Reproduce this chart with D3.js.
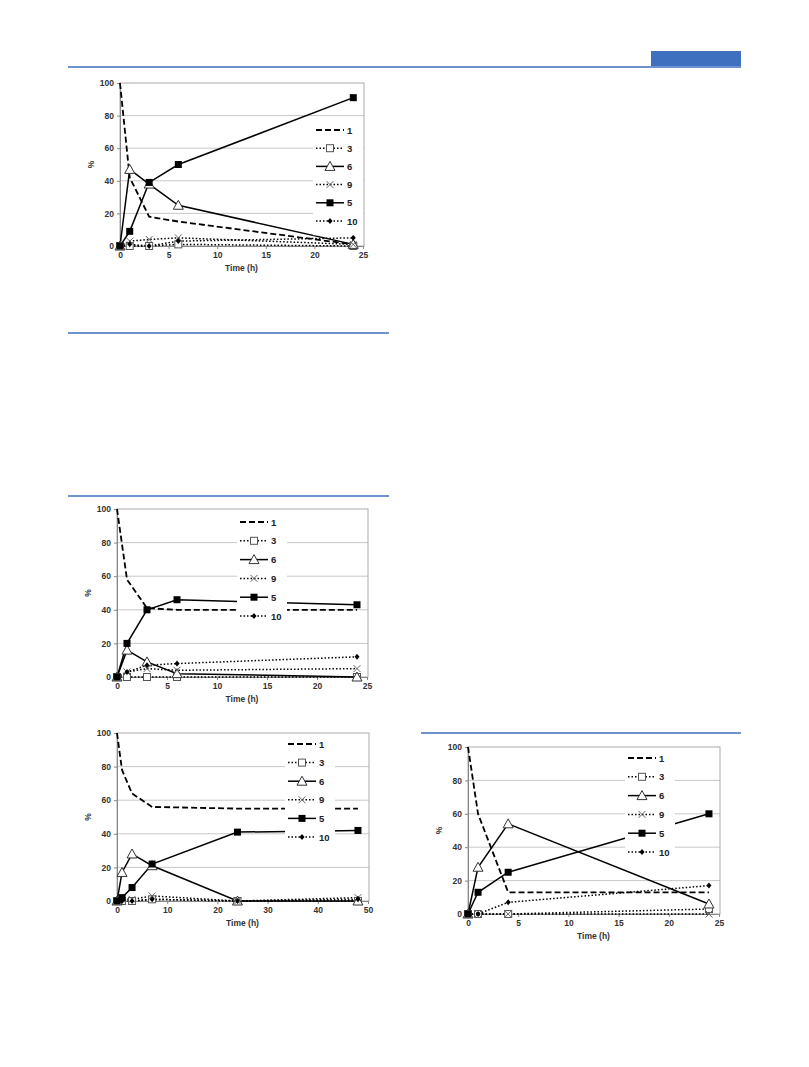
<!DOCTYPE html>
<html><head><meta charset="utf-8">
<script src="https://cdn.jsdelivr.net/npm/d3@7"></script>
<style>body{margin:0;background:#fff}</style></head>
<body><svg id="s" width="809" height="1067"></svg>
<script>
const seriesNames = ["1","3","6","9","5","10"];
const yTicks = [0,20,40,60,80,100];
const xTicks25 = [0,5,10,15,20,25];
const xTicks50 = [0,10,20,30,40,50];
const timesA = [0,1,3,6,24];
const valuesA = {"1":[100,42,18,15,1],"3":[0,0,0,1,0],"6":[0,47,38,25,1],"9":[0,3,4,5,1],"5":[0,9,39,50,91],"10":[0,1,0,3,5]};
const timesB = [0,1,3,6,24];
const valuesB = {"1":[100,58,41,40,40],"3":[0,0,0,0,0],"6":[0,16,9,2,0],"9":[0,3,5,4,5],"5":[0,20,40,46,43],"10":[0,3,7,8,12]};
const timesC = [0,1,3,7,24,48];
const valuesC = {"1":[100,78,64,56,55,55],"3":[0,0,0,1,0,0],"6":[0,17,28,21,0,0],"9":[0,1,1,3,0,2],"5":[0,2,8,22,41,42],"10":[0,0,0,1,0,1]};
const timesD = [0,1,4,24];
const valuesD = {"1":[100,60,13,13],"3":[0,0,0,3],"6":[0,28,54,6],"9":[0,0,0,0],"5":[0,13,25,60],"10":[0,0,7,17]};

const svg = d3.select("#s");
const blue = "#3f6fbf";
[[68,741,67],[68,389,333],[68,389,496],[421,741,733]].forEach(([a,b,y])=>
  svg.append("line").attr("x1",a).attr("x2",b).attr("y1",y).attr("y2",y).attr("stroke",blue).attr("stroke-width",1.3));
svg.append("rect").attr("x",651).attr("y",51).attr("width",90).attr("height",15).attr("fill",blue);

const style = {
 "1":{dash:"6,3",w:1.8,m:"none"},
 "3":{dash:"1.5,2",w:1.5,m:"osq"},
 "6":{dash:null,w:1.5,m:"otri"},
 "9":{dash:"1.5,2",w:1.5,m:"x"},
 "5":{dash:null,w:1.5,m:"fsq"},
 "10":{dash:"1.5,2",w:1.5,m:"dia"}
};
function marker(g,type,x,y){
  if(type==="osq") g.append("rect").attr("x",x-3.5).attr("y",y-3.5).attr("width",7).attr("height",7).attr("fill","#fff").attr("stroke","#555").attr("stroke-width",1);
  else if(type==="fsq") g.append("rect").attr("x",x-3.5).attr("y",y-3.5).attr("width",7).attr("height",7).attr("fill","#000");
  else if(type==="otri") g.append("path").attr("d",`M${x},${y-5}L${x+5},${y+4}L${x-5},${y+4}Z`).attr("fill","#fff").attr("stroke","#333").attr("stroke-width",1);
  else if(type==="x") g.append("path").attr("d",`M${x-3.5},${y-3.5}L${x+3.5},${y+3.5}M${x+3.5},${y-3.5}L${x-3.5},${y+3.5}`).attr("stroke","#666").attr("stroke-width",1);
  else if(type==="dia") g.append("path").attr("d",`M${x},${y-3}L${x+2.5},${y}L${x},${y+3}L${x-2.5},${y}Z`).attr("fill","#000");
}
const font="'Liberation Sans', Arial, sans-serif";
function chart(o){
  const x=d3.scaleLinear().domain([0,o.xmax]).range([o.x0,o.x1]);
  const y=d3.scaleLinear().domain([0,100]).range([o.y0,o.y1]);
  const g=svg.append("g");
  yTicks.forEach(t=>{ if(t>0&&t<100) g.append("line").attr("x1",o.x0).attr("x2",o.x1+1).attr("y1",y(t)).attr("y2",y(t)).attr("stroke","#c8c8c8").attr("stroke-width",1);});
  g.append("rect").attr("x",o.x0).attr("y",y(100)).attr("width",o.x1+1-o.x0).attr("height",o.y0-y(100)).attr("fill","none").attr("stroke","#aaa").attr("stroke-width",1);
  const st=a=>{a.select(".domain").attr("stroke","#888");a.selectAll("line").attr("stroke","#888");a.selectAll("text").attr("font-family",font).attr("font-weight","bold").attr("font-size",8.5).attr("fill","#333");};
  g.append("g").attr("transform",`translate(${o.x0},0)`).call(d3.axisLeft(y).tickValues(yTicks).tickSize(3)).call(st);
  g.append("g").attr("transform",`translate(0,${o.y0})`).call(d3.axisBottom(x).tickValues(o.xt).tickSize(3)).call(st);
  g.append("text").attr("x",(o.x0+o.x1)/2).attr("y",o.y0+25).attr("text-anchor","middle").attr("font-family",font).attr("font-weight","bold").attr("font-size",8.5).attr("fill","#333").text("Time (h)");
  g.append("text").attr("transform",`translate(${o.x0-26},${(o.y0+y(100))/2}) rotate(-90)`).attr("text-anchor","middle").attr("font-family",font).attr("font-weight","bold").attr("font-size",8.5).attr("fill","#333").text("%");
  const line=d3.line().x((d,i)=>x(o.t[i])).y(d=>y(d));
  seriesNames.forEach(n=>{
    const s=style[n];
    g.append("path").attr("d",line(o.v[n])).attr("fill","none").attr("stroke","#000").attr("stroke-width",s.w).attr("stroke-dasharray",s.dash);
  });
  seriesNames.forEach(n=>{ o.v[n].forEach((d,i)=>marker(g,style[n].m,x(o.t[i]),y(d))); });
  g.append("rect").attr("x",o.lx-3).attr("y",o.ly-8).attr("width",50).attr("height",o.ls*6+4).attr("fill","#fff");
  seriesNames.forEach((n,i)=>{
    const s=style[n], yy=o.ly+i*o.ls;
    g.append("line").attr("x1",o.lx).attr("x2",o.lx+28).attr("y1",yy).attr("y2",yy).attr("stroke","#000").attr("stroke-width",s.w).attr("stroke-dasharray",s.dash);
    marker(g,s.m,o.lx+14,yy);
    g.append("text").attr("x",o.lx+31).attr("y",yy+3.5).attr("font-family",font).attr("font-weight","bold").attr("font-size",9.5).attr("fill","#222").text(n);
  });
}
chart({x0:120,x1:363,y0:246,y1:83,xmax:25,xt:xTicks25,t:timesA,v:valuesA,lx:316,ly:130,ls:18.2});
chart({x0:117,x1:367,y0:677,y1:509,xmax:25,xt:xTicks25,t:timesB,v:valuesB,lx:240,ly:522,ls:18.8});
chart({x0:117,x1:368,y0:901,y1:733,xmax:50,xt:xTicks50,t:timesC,v:valuesC,lx:288,ly:744,ls:18.6});
chart({x0:468,x1:719,y0:914,y1:747,xmax:25,xt:xTicks25,t:timesD,v:valuesD,lx:628,ly:758,ls:18.8});
</script></body></html>
